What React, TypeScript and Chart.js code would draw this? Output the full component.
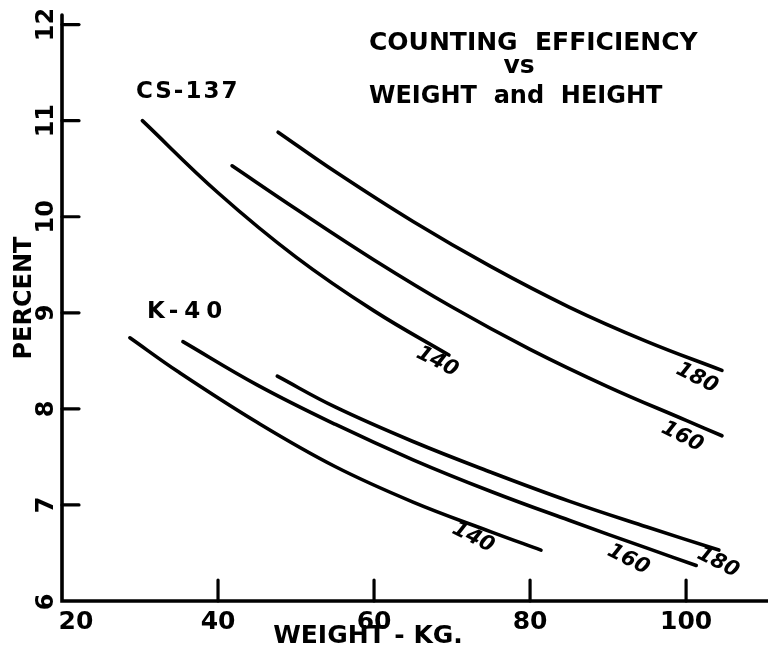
import { useEffect, useRef } from "react";
import { Chart, registerables } from "chart.js";

Chart.register(...registerables);

// ---- data ----
const xTickValues = [20, 40, 60, 80, 100];
const yTickValues = [6, 7, 8, 9, 10, 11, 12];

// Cs-137, height 140 / 160 / 180
const cs140X = [30.3, 40, 50, 60, 69.6];
const cs140Y = [11.0, 10.25, 9.58, 9.02, 8.56];
const cs160X = [41.8, 50, 60, 70, 80, 90, 100, 104.6];
const cs160Y = [10.53, 10.08, 9.55, 9.06, 8.62, 8.23, 7.88, 7.72];
const cs180X = [47.7, 55, 65, 75, 85, 95, 104.6];
const cs180Y = [10.88, 10.47, 9.95, 9.48, 9.06, 8.7, 8.4];

// K-40, height 140 / 160 / 180
const k140X = [28.7, 35, 45, 55, 65, 75, 81.4];
const k140Y = [8.74, 8.38, 7.86, 7.4, 7.03, 6.72, 6.53];
const k160X = [35.5, 45, 55, 65, 75, 85, 95, 101.3];
const k160Y = [8.7, 8.25, 7.84, 7.47, 7.14, 6.84, 6.55, 6.37];
const k180X = [47.6, 55, 65, 75, 85, 95, 104.2];
const k180Y = [8.34, 8.02, 7.66, 7.34, 7.04, 6.77, 6.53];

const curveLabels = ["140", "160", "180", "140", "160", "180"];

const toPoints = (xs: number[], ys: number[]) => xs.map((x, i) => ({ x, y: ys[i] }));

// annotation anchors (data units) for curve labels
const labelAnchors = [
  { x: 68.1, y: 8.49 },
  { x: 99.5, y: 7.71 },
  { x: 101.4, y: 8.32 },
  { x: 72.7, y: 6.66 },
  { x: 92.6, y: 6.43 },
  { x: 104.1, y: 6.4 },
];

const BOLD = "'DejaVu Sans', sans-serif";

const drawPlugin = {
  id: "handDrawn",
  afterDraw(chart: any) {
    const ctx = chart.ctx as CanvasRenderingContext2D;
    const xs = chart.scales.x;
    const ys = chart.scales.y;
    const { left, right, top, bottom } = chart.chartArea;
    ctx.save();
    ctx.strokeStyle = "#000";
    ctx.fillStyle = "#000";
    ctx.lineCap = "round";

    // axes
    ctx.lineWidth = 3.6;
    ctx.beginPath();
    ctx.moveTo(left, top);
    ctx.lineTo(left, bottom);
    ctx.lineTo(right + 2, bottom);
    ctx.stroke();

    // y ticks (inward)
    ctx.lineWidth = 3.2;
    yTickValues.forEach((v) => {
      if (v === 6) return;
      const py = ys.getPixelForValue(v);
      ctx.beginPath();
      ctx.moveTo(left, py);
      ctx.lineTo(left + 17, py);
      ctx.stroke();
    });
    // x ticks (upward)
    xTickValues.forEach((v) => {
      if (v === 20) return;
      const px = xs.getPixelForValue(v);
      ctx.beginPath();
      ctx.moveTo(px, bottom);
      ctx.lineTo(px, bottom - 21);
      ctx.stroke();
    });

    // y tick labels (rotated)
    ctx.font = `bold 24px ${BOLD}`;
    ctx.textAlign = "center";
    ctx.textBaseline = "middle";
    yTickValues.forEach((v) => {
      const py = ys.getPixelForValue(v);
      ctx.save();
      ctx.translate(47, py + (v === 6 ? 1 : 0));
      ctx.rotate(-Math.PI / 2);
      ctx.fillText(String(v), 0, 0);
      ctx.restore();
    });

    // x tick labels
    ctx.font = `bold 25px ${BOLD}`;
    ctx.textBaseline = "alphabetic";
    xTickValues.forEach((v) => {
      const px = xs.getPixelForValue(v) + (v === 20 ? 14 : 0);
      ctx.fillText(String(v), px, bottom + 28);
    });

    // axis titles
    ctx.font = `bold 25px ${BOLD}`;
    ctx.textAlign = "center";
    ctx.fillText("WEIGHT - KG.", 368, 643);
    ctx.save();
    ctx.translate(31, 298);
    ctx.rotate(-Math.PI / 2);
    ctx.font = `bold 24px ${BOLD}`;
    ctx.fillText("PERCENT", 0, 0);
    ctx.restore();

    // chart title
    ctx.textAlign = "left";
    ctx.font = `bold 25px ${BOLD}`;
    ctx.fillText("COUNTING  EFFICIENCY", 369, 50);
    ctx.textAlign = "center";
    ctx.fillText("vs", 519, 73);
    ctx.textAlign = "left";
    ctx.font = `bold 24px ${BOLD}`;
    ctx.fillText("WEIGHT  and  HEIGHT", 369, 103);

    // series group labels
    ctx.font = `bold 23px ${BOLD}`;
    (ctx as any).letterSpacing = "2px";
    ctx.fillText("CS-137", 136, 98);
    (ctx as any).letterSpacing = "6px";
    ctx.fillText("K-40", 147, 318);
    (ctx as any).letterSpacing = "0px";

    // curve labels (hand-lettered, rotated)
    ctx.font = `bold italic 21px 'DejaVu Sans', sans-serif`;
    ctx.textAlign = "center";
    ctx.textBaseline = "middle";
    labelAnchors.forEach((a, i) => {
      const px = xs.getPixelForValue(a.x);
      const py = ys.getPixelForValue(a.y);
      ctx.save();
      ctx.translate(px, py);
      ctx.rotate((27 * Math.PI) / 180);
      ctx.fillText(curveLabels[i], 0, 0);
      ctx.restore();
    });

    ctx.restore();
  },
};

export default function App() {
  const canvasRef = useRef<HTMLCanvasElement | null>(null);

  useEffect(() => {
    if (!canvasRef.current) return;
    const series = [
      toPoints(cs140X, cs140Y),
      toPoints(cs160X, cs160Y),
      toPoints(cs180X, cs180Y),
      toPoints(k140X, k140Y),
      toPoints(k160X, k160Y),
      toPoints(k180X, k180Y),
    ];
    const names = ["Cs-137 140", "Cs-137 160", "Cs-137 180", "K-40 140", "K-40 160", "K-40 180"];
    const chart = new Chart(canvasRef.current, {
      type: "scatter",
      data: {
        datasets: series.map((data, i) => ({
          label: names[i],
          data,
          showLine: true,
          borderColor: "#000",
          backgroundColor: "#000",
          borderWidth: 3.6,
          borderCapStyle: "round",
          borderJoinStyle: "round",
          pointRadius: 0,
          tension: 0.4,
        })),
      },
      options: {
        animation: false,
        responsive: false,
        devicePixelRatio: 1,
        layout: { padding: { left: 62, right: 0, top: 15, bottom: 50 } },
        plugins: { legend: { display: false }, tooltip: { enabled: false } },
        scales: {
          x: { type: "linear", min: 20, max: 110.5, display: false },
          y: { type: "linear", min: 6, max: 12.1, display: false },
        },
      },
      plugins: [drawPlugin],
    } as any);
    return () => chart.destroy();
  }, []);

  return (
    <div style={{ position: "absolute", left: 0, top: 0, width: 768, height: 651, background: "#fff" }}>
      <canvas ref={canvasRef} width={768} height={651} style={{ display: "block" }} />
    </div>
  );
}
